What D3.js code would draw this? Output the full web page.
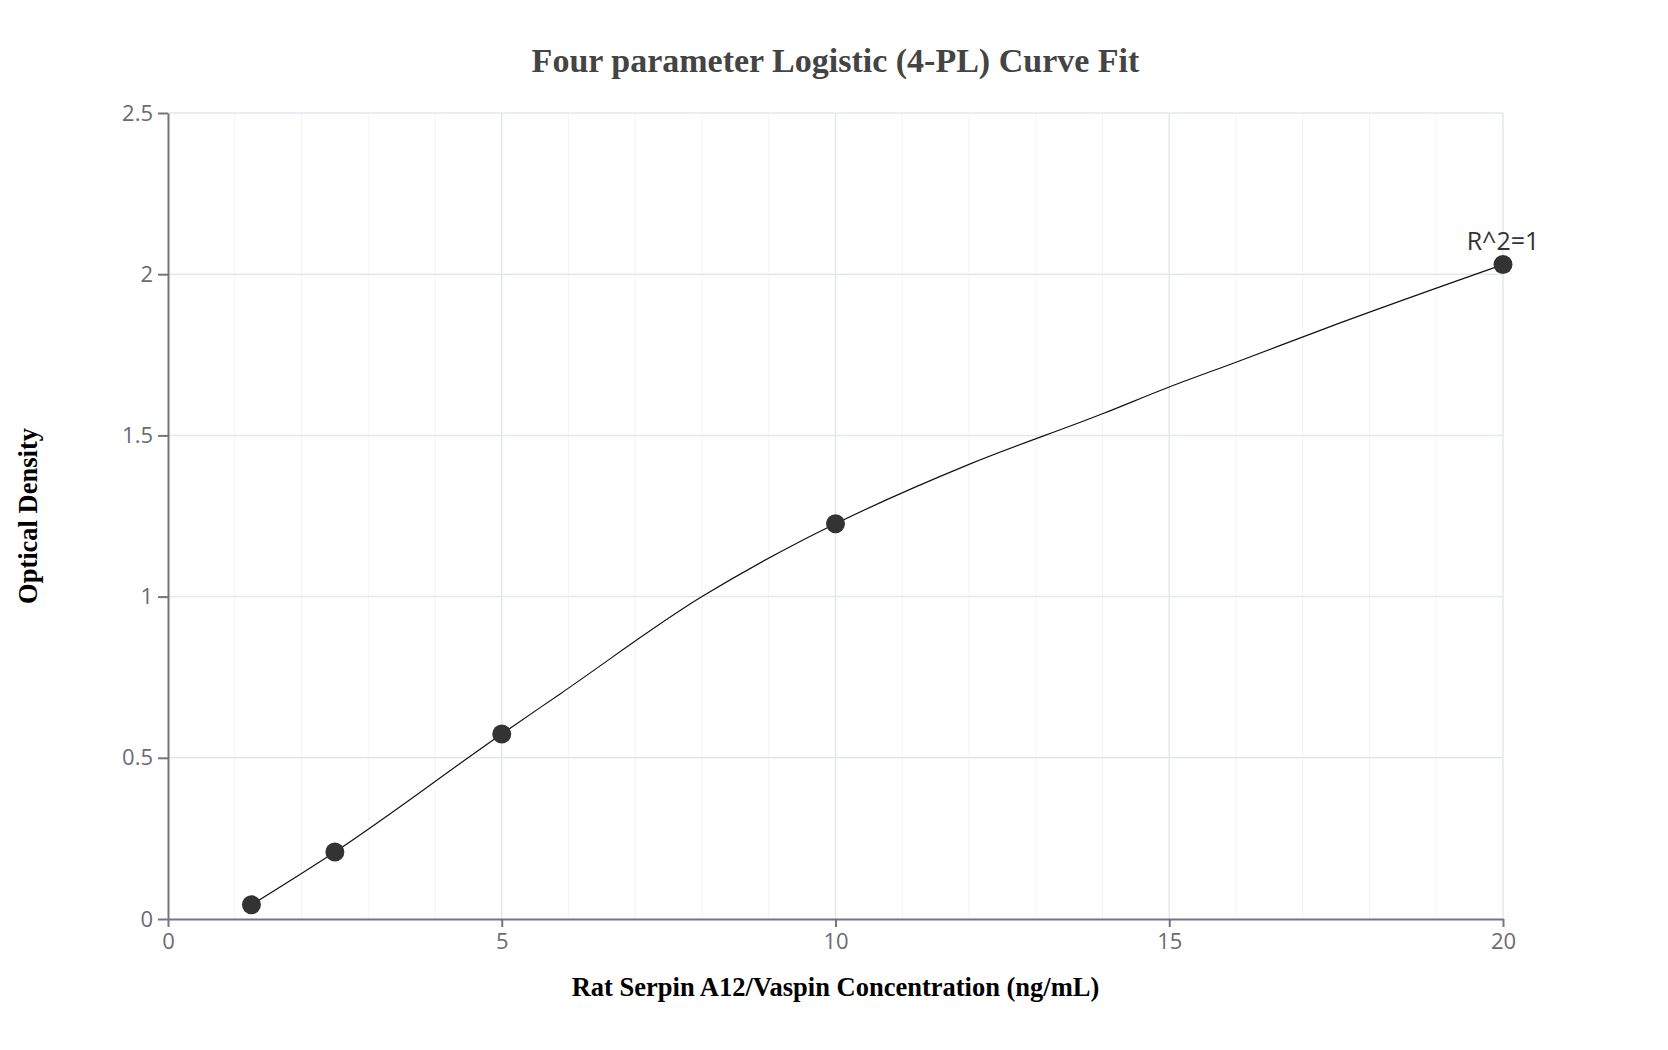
<!DOCTYPE html>
<html>
<head>
<meta charset="utf-8">
<script src="https://cdn.jsdelivr.net/npm/d3@7"></script>
<style>
  body { margin: 0; background: #fff; }
</style>
</head>
<body>
<div class="canvas"></div>
<script>
// standard points (concentration ng/mL, OD)
const concentrations = [1.25, 2.5, 5, 10, 20];
const odValues = [0.044, 0.208, 0.574, 1.226, 2.03];

// fitted curve
const fitX = [1.25, 2.5, 5, 5.88, 8, 9.47, 10, 12, 14, 15, 16, 17.56, 20];
const fitY = [0.044, 0.208, 0.574, 0.699, 1.0, 1.171, 1.226, 1.41, 1.567, 1.65, 1.727, 1.849, 2.03];

const xTicks = [0, 5, 10, 15, 20];
const xMinorTicks = d3.range(0, 21, 1);
const yTicks = [0, 0.5, 1, 1.5, 2, 2.5];
const fitLabel = 'R^2=1';

const width = 1668, height = 1050;
const margin = {top: 113, right: 165, bottom: 131, left: 168};
const graphWidth = width - margin.left - margin.right;
const graphHeight = height - margin.top - margin.bottom;

const svg = d3.select('.canvas')
                .append('svg')
                .attr('width', width)
                .attr('height', height);

const graph = svg.append('g')
                .attr('transform', `translate(${margin.left}, ${margin.top})`);

const x = d3.scaleLinear()
            .domain([0, 20])
            .range([0, graphWidth]);

const y = d3.scaleLinear()
            .domain([0, 2.5])
            .range([graphHeight, 0]);

// grid: minor vertical lines, then major ones
graph.append('g')
    .selectAll('line')
    .data(xMinorTicks.filter(d => d % 5 !== 0))
    .enter().append('line')
    .attr('x1', d => x(d)).attr('x2', d => x(d))
    .attr('y1', 0).attr('y2', graphHeight)
    .attr('stroke', '#f1f3f8')
    .attr('stroke-width', 1);

graph.append('g')
    .selectAll('line')
    .data(xTicks.slice(1))
    .enter().append('line')
    .attr('x1', d => x(d)).attr('x2', d => x(d))
    .attr('y1', 0).attr('y2', graphHeight)
    .attr('stroke', '#e3e7f0')
    .attr('stroke-width', 1.5);

graph.append('g')
    .selectAll('line')
    .data(yTicks.slice(1))
    .enter().append('line')
    .attr('x1', 0).attr('x2', graphWidth)
    .attr('y1', d => y(d)).attr('y2', d => y(d))
    .attr('stroke', '#e3e7f0')
    .attr('stroke-width', 1.5);

// axes
const xAxis = d3.axisBottom(x)
                .tickValues(xTicks)
                .tickSize(8)
                .tickSizeOuter(0)
                .tickFormat(d3.format('d'));
const yAxis = d3.axisLeft(y)
                .tickValues(yTicks)
                .tickSize(10)
                .tickSizeOuter(0)
                .tickFormat(d => d);

const xAxisGroup = graph.append('g')
                .attr('transform', `translate(0, ${graphHeight})`)
                .call(xAxis);
const yAxisGroup = graph.append('g').call(yAxis);

[xAxisGroup, yAxisGroup].forEach(g => {
    g.select('.domain').attr('stroke', '#74747e').attr('stroke-width', 2);
    g.selectAll('.tick line').attr('stroke', '#74747e').attr('stroke-width', 2);
    g.selectAll('text')
        .attr('fill', '#6b6b75')
        .style('font-family', '"Open Sans", sans-serif')
        .style('font-size', '22px');
});
xAxisGroup.selectAll('text').attr('dy', '0.95em').attr('y', 9);
yAxisGroup.selectAll('text').attr('x', -15);

// fitted curve
const line = d3.line()
                .x((d, i) => x(fitX[i]))
                .y(d => y(d))
                .curve(d3.curveMonotoneX);

graph.append('path')
    .datum(fitY)
    .attr('d', line)
    .attr('fill', 'none')
    .attr('stroke', '#111')
    .attr('stroke-width', 1.2);

// points
graph.selectAll('circle')
    .data(concentrations)
    .enter().append('circle')
    .attr('cx', d => x(d))
    .attr('cy', (d, i) => y(odValues[i]))
    .attr('r', 9.5)
    .attr('fill', '#333');

// R^2 label on the last point
const last = concentrations.length - 1;
graph.append('text')
    .attr('x', x(concentrations[last]))
    .attr('y', y(odValues[last]) - 15)
    .attr('text-anchor', 'middle')
    .attr('fill', '#333')
    .style('font-family', '"Open Sans", sans-serif')
    .style('font-size', '25px')
    .text(fitLabel);

// titles
svg.append('text')
    .attr('x', margin.left + graphWidth / 2)
    .attr('y', 72)
    .attr('text-anchor', 'middle')
    .attr('fill', '#444')
    .style('font-family', '"Liberation Serif", "Times New Roman", serif')
    .style('font-weight', 'bold')
    .style('font-size', '34px')
    .text('Four parameter Logistic (4-PL) Curve Fit');

svg.append('text')
    .attr('x', margin.left + graphWidth / 2)
    .attr('y', 996)
    .attr('text-anchor', 'middle')
    .attr('fill', '#000')
    .style('font-family', '"Liberation Serif", "Times New Roman", serif')
    .style('font-weight', 'bold')
    .style('font-size', '26.5px')
    .text('Rat Serpin A12/Vaspin Concentration (ng/mL)');

svg.append('text')
    .attr('transform', `translate(37, ${margin.top + graphHeight / 2}) rotate(-90)`)
    .attr('text-anchor', 'middle')
    .attr('fill', '#000')
    .style('font-family', '"Liberation Serif", "Times New Roman", serif')
    .style('font-weight', 'bold')
    .style('font-size', '26.5px')
    .text('Optical Density');
</script>
</body>
</html>
